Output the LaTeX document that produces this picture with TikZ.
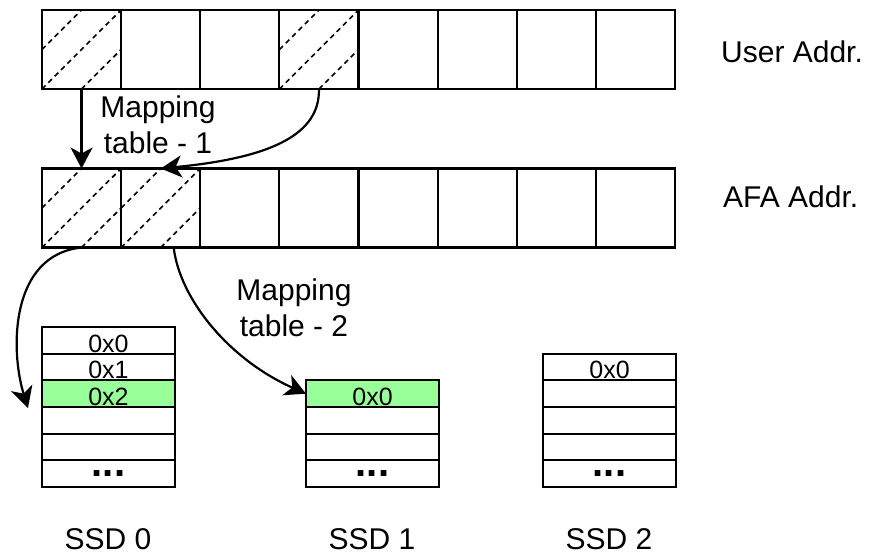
\documentclass[tikz,border=0pt]{standalone}
\usepackage{fontspec}
\setmainfont{Liberation Sans}
\usetikzlibrary{arrows.meta}
\definecolor{hitgreen}{HTML}{99FF99}

\begin{document}
\begin{tikzpicture}[x=1pt,y=-1pt,
  cell/.style={draw,line width=2.2pt,minimum width=79.125pt,minimum height=79pt,inner sep=0pt,outer sep=0pt,anchor=north west},
  slot/.style={draw,line width=2.2pt,minimum width=133pt,minimum height=26.67pt,inner sep=0pt,outer sep=0pt,anchor=north west},
  hit/.style={slot,fill=hitgreen},
  hatch/.style={line width=1.6pt,dash pattern=on 5pt off 4pt},
  lbl/.style={font=\fontsize{30}{36}\selectfont,inner sep=0pt},
  val/.style={font=\fontsize{25}{30}\selectfont,inner sep=0pt,anchor=base},
  more/.style={font=\fontsize{40}{40}\selectfont\bfseries,inner sep=0pt,anchor=base},
  link/.style={line width=2.2pt,-{Stealth[length=21pt,width=22pt,inset=6pt]}}]
\useasboundingbox (0,0) rectangle (872,555);

% address rows
\foreach \i in {1,...,8}{
  \node[cell] (u\i) at ({42+79.125*(\i-1)},10) {};
  \node[cell] (a\i) at ({42+79.125*(\i-1)},168.5) {};
}
% hatched (mapped) cells
\foreach \c in {u1,u4,a1,a2}{
  \draw[hatch] (\c.south west) -- (\c.north east);
  \draw[hatch] (\c.west) -- (\c.north);
  \draw[hatch] (\c.south) -- (\c.east);
}

\node[lbl,anchor=base west] (ulab) at (721,62) {User Addr.};
\node[lbl,anchor=base west] (alab) at (723,207) {AFA Addr.};

% SSD 0
\node[slot] (s0r1) at (42,327) {};
\node[slot] (s0r2) at (42,353.67) {};
\node[hit]  (s0r3) at (42,380.33) {};
\node[slot] (s0r4) at (42,407) {};
\node[slot] (s0r5) at (42,433.67) {};
\node[slot] (s0r6) at (42,460.33) {};
% SSD 1
\node[hit]  (s1r1) at (306,380.33) {};
\node[slot] (s1r2) at (306,407) {};
\node[slot] (s1r3) at (306,433.67) {};
\node[slot] (s1r4) at (306,460.33) {};
% SSD 2
\node[slot] (s2r1) at (543,353.67) {};
\node[slot] (s2r2) at (543,380.33) {};
\node[slot] (s2r3) at (543,407) {};
\node[slot] (s2r4) at (543,433.67) {};
\node[slot] (s2r5) at (543,460.33) {};

% block numbers
\node[val] (v00) at ([yshift=1.5pt]s0r1.south) {0x0};
\node[val] (v01) at ([yshift=1.5pt]s0r2.south) {0x1};
\node[val] (v02) at ([yshift=1.5pt]s0r3.south) {0x2};
\node[val] (v10) at ([yshift=1.5pt]s1r1.south) {0x0};
\node[val] (v20) at ([yshift=1.5pt]s2r1.south) {0x0};
\node[more] (d0) at ([yshift=10.5pt]s0r6.south) {...};
\node[more] (d1) at ([yshift=10.5pt]s1r4.south) {...};
\node[more] (d2) at ([yshift=10.5pt]s2r5.south) {...};

\node[lbl,anchor=base] (n0) at (108,549) {SSD 0};
\node[lbl,anchor=base] (n1) at (372,549) {SSD 1};
\node[lbl,anchor=base] (n2) at (609,549) {SSD 2};

% mapping arrows
\draw[link] (u1.south) -- (a1.north);
\draw[link] (u4.south) .. controls (320,135) and (270,158) .. (a2.north);
\node[lbl,align=center,anchor=base] (m1) at (158,153) {Mapping\\table - 1};

\coordinate (t0) at (28,408);
\draw[link] (a1.south) .. controls (10,255) and (10,350) .. (t0);
\draw[link] ([xshift=13pt]a2.south) .. controls (180,300) and (230,360) .. (s1r1.west);
\node[lbl,align=center,anchor=base] (m2) at (294,336) {Mapping\\table - 2};
\end{tikzpicture}
\end{document}
